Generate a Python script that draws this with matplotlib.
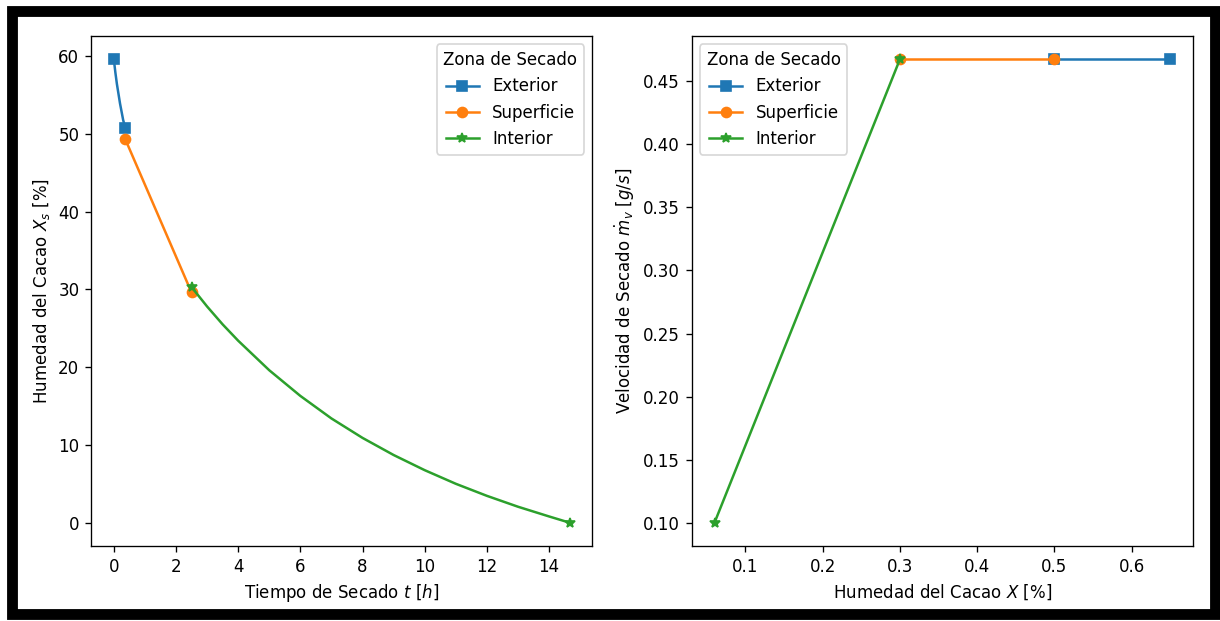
import matplotlib
matplotlib.use("Agg")
import matplotlib.pyplot as plt
from matplotlib.patches import Rectangle

# left panel: moisture vs drying time
t_ext = [0.0, 0.05, 0.1, 0.2, 0.3, 0.37]
x_ext = [59.6, 57.9, 56.4, 53.9, 51.8, 50.7]
t_sup = [0.37, 2.5]
x_sup = [49.3, 29.6]
t_int = [2.5, 3, 3.5, 4, 5, 6, 7, 8, 9, 10, 11, 12, 13, 14, 14.66]
x_int = [30.3, 27.8, 25.5, 23.4, 19.6, 16.3, 13.4, 10.9, 8.7, 6.75, 5.0, 3.45, 2.05, 0.8, 0.0]

# right panel: drying rate vs moisture
h_ext = [0.65, 0.5]
v_ext = [0.4675, 0.4675]
h_sup = [0.5, 0.3]
v_sup = [0.4675, 0.4675]
h_int = [0.3, 0.06]
v_int = [0.4675, 0.10]

labels = ["Exterior", "Superficie", "Interior"]

fig = plt.figure(figsize=(1220 / 120, 621 / 120), dpi=120)
ax1 = fig.add_axes([0.0746, 0.121, 0.411, 0.821])
ax2 = fig.add_axes([0.567, 0.121, 0.411, 0.821])

ax1.plot(t_ext, x_ext, "s-", color="C0", markevery=[0, -1], label=labels[0])
ax1.plot(t_sup, x_sup, "o-", color="C1", markevery=[0, -1], label=labels[1])
ax1.plot(t_int, x_int, "*-", color="C2", markevery=[0, -1], label=labels[2])
ax1.set_xlabel("Tiempo de Secado $t$ [$h$]")
ax1.set_ylabel("Humedad del Cacao $X_s$ [%]")
ax1.legend(title="Zona de Secado", loc="upper right")

ax2.plot(h_ext, v_ext, "s-", color="C0", label=labels[0])
ax2.plot(h_sup, v_sup, "o-", color="C1", label=labels[1])
ax2.plot(h_int, v_int, "*-", color="C2", label=labels[2])
ax2.set_xlabel("Humedad del Cacao $X$ [%]")
ax2.set_ylabel(r"Velocidad de Secado $\dot{m}_v$ [$g/s$]")
ax2.legend(title="Zona de Secado", loc="upper left")

# thick black frame around the whole picture
fig.add_artist(Rectangle((12 / 1220, 7 / 621), 1203 / 1220, 603 / 621,
                         transform=fig.transFigure, fill=False,
                         edgecolor="black", linewidth=6.5))

fig.savefig("out.png", dpi=120)
